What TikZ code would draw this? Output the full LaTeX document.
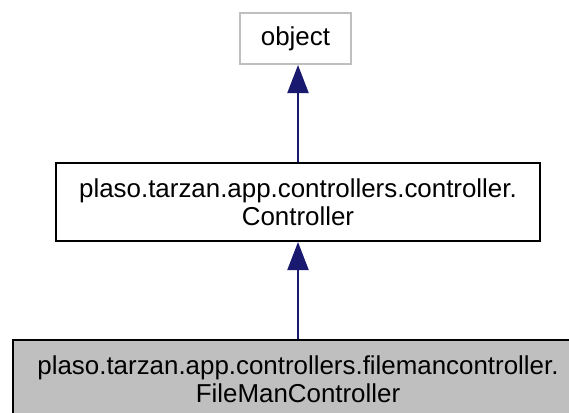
\documentclass[tikz,border=0pt]{standalone}
\usepackage{fontspec}
\setmainfont{Liberation Sans}
\usetikzlibrary{arrows.meta}
\definecolor{edgeblue}{HTML}{191970}
\definecolor{boxgray}{HTML}{BFBFBF}
\begin{document}
\begin{tikzpicture}[x=1pt,y=1pt,
  cls/.style={draw, line width=2pt, inner sep=0pt, align=center,
    font=\fontsize{25.9}{28}\selectfont},
  inh/.style={draw=edgeblue, line width=2pt, -{Triangle[length=28pt,width=21pt]}}]
\useasboundingbox (0,0) rectangle (569,-412);
\node[cls, draw=boxgray, minimum width=111pt, minimum height=51pt] (obj) at (295.5,-38.5) {object};
\node[cls, draw=black, minimum width=484pt, minimum height=78pt] (ctrl) at (298,-202) {plaso.tarzan.app.controllers.controller.\\Controller};
\node[cls, draw=black, fill=boxgray, minimum width=570pt, minimum height=78pt] (fmc) at (298,-379) {plaso.tarzan.app.controllers.filemancontroller.\\FileManController};
\draw[inh] (ctrl.north -| 298,0) -- (obj.south -| 298,0);
\draw[inh] (fmc.north) -- (ctrl.south);
\end{tikzpicture}
\end{document}
